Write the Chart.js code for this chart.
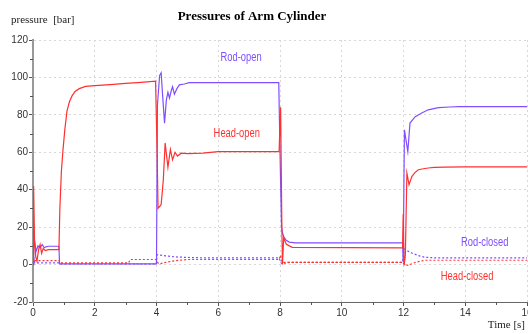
<!DOCTYPE html>
<html>
<head>
<meta charset="utf-8">
<script src="https://cdn.jsdelivr.net/npm/chart.js@4"></script>
<style>
  html, body { margin: 0; padding: 0; background: #fff; }
  #wrap { width: 528px; height: 334px; position: relative; }
</style>
</head>
<body>
<div id="wrap"><canvas id="c" width="528" height="334"></canvas></div>
<script>
// ---- data (time in s, pressure in bar) ----
const rodOpenT = [0, 0.02, 0.04, 0.1, 0.16, 0.22, 0.3, 0.36, 0.42, 0.5, 0.84, 0.86, 2.0, 4.0, 4.03, 4.1, 4.15, 4.2, 4.26, 4.32, 4.37, 4.42, 4.48, 4.52, 4.58, 4.66, 4.74, 4.9, 5.06, 6.0, 7.96, 8.0, 8.05, 8.08, 8.12, 8.2, 8.3, 8.5, 11.97, 11.99, 12.03, 12.14, 12.21, 12.3, 12.38, 12.59, 12.8, 13.13, 13.5, 13.8, 16];
const rodOpenP = [0, 17, 14, 7, 10, 9, 10.7, 9, 9.5, 9.8, 9.8, 0.4, 0.4, 0.4, 85, 101, 102.5, 90, 75.6, 88, 92, 89, 93, 95, 91, 94, 96, 96.5, 97.2, 97.2, 97.2, 60, 20, 17, 15, 13, 12, 11.6, 11.6, 1.2, 72, 60.4, 75.6, 77.5, 79, 81, 82.7, 83.9, 84.2, 84.4, 84.4];

const headOpenT = [0, 0.02, 0.05, 0.09, 0.13, 0.18, 0.23, 0.28, 0.33, 0.4, 0.5, 0.84, 0.87, 0.92, 0.97, 1.03, 1.1, 1.18, 1.26, 1.36, 1.5, 1.7, 2.0, 2.5, 3.0, 3.5, 3.97, 4.02, 4.05, 4.15, 4.22, 4.28, 4.37, 4.45, 4.52, 4.6, 4.68, 4.8, 5.0, 5.5, 6.0, 7.97, 8.02, 8.06, 8.08, 8.12, 8.2, 8.3, 8.4, 11.97, 11.99, 12.02, 12.06, 12.11, 12.18, 12.27, 12.36, 12.48, 12.65, 12.8, 13.0, 13.35, 14, 16];
const headOpenP = [0, 42, 12, 4, 1.8, 8, 10.7, 6, 8.5, 7.5, 8, 8, 30, 50, 61, 72, 82, 87, 90, 92.5, 94, 95.2, 95.6, 96.2, 96.8, 97.4, 98, 60, 30, 32, 45, 65, 52, 61.5, 56, 60, 58, 59.5, 59.3, 59.6, 60.3, 60.3, 84, 20, 0, 14.4, 11, 10, 9.2, 8.9, 27, -0.5, 5, 48.9, 42.7, 47, 49, 50.7, 51.2, 51.6, 51.9, 52.1, 52.2, 52.2];

const rodClosedT = [0, 0.03, 0.06, 0.84, 0.87, 3.99, 4.02, 4.2, 4.4, 4.6, 5.0, 5.5, 7.97, 8.03, 8.07, 8.3, 11.97, 12.02, 12.1, 12.27, 12.48, 12.7, 13.0, 16];
const rodClosedP = [0, 3, 0.9, 0.9, 0.3, 0.3, 5.3, 4.9, 4.5, 4.1, 3.8, 3.6, 3.6, 1, 0.4, 1.2, 1.2, 8.4, 7.5, 6.2, 4.8, 3.9, 3.6, 3.6];

const headClosedT = [0, 0.03, 0.06, 0.84, 0.87, 3.1, 3.15, 3.99, 4.05, 4.1, 4.3, 4.6, 5.0, 7.97, 8.02, 8.07, 8.3, 11.97, 12.03, 12.15, 12.4, 12.7, 16];
const headClosedP = [0, 1, 2.1, 2.1, 0.9, 0.9, 2.7, 2.7, 0.8, 0.4, 1.2, 2.1, 2.7, 2.7, 5, 1.2, 1.2, 1.2, 0, -0.4, 1.3, 2.3, 2.3];

const seriesNames = ['Rod-open', 'Head-open', 'Rod-closed', 'Head-closed'];
const yTickLabels = [-20, 0, 20, 40, 60, 80, 100, 120];
const xTickLabels = [0, 2, 4, 6, 8, 10, 12, 14, 16];

// ---- styles / label placement (data-space anchors) ----
const PURPLE = 'rgb(128,78,255)';
const RED = 'rgb(255,48,48)';
const labelAnchors = [
  { text: seriesNames[0], t: 6.74, p: 110.4, color: PURPLE },
  { text: seriesNames[1], t: 6.6, p: 70.2, color: RED },
  { text: seriesNames[2], t: 14.63, p: 11.7, color: PURPLE },
  { text: seriesNames[3], t: 14.06, p: -6.6, color: RED }
];

function pts(ts, ps) { return ts.map((t, i) => ({ x: t, y: ps[i] })); }

const minorTicks = {
  id: 'minorTicks',
  afterDraw(chart) {
    const ctx = chart.ctx;
    const xs = chart.scales.x, ys = chart.scales.y;
    ctx.save();
    ctx.strokeStyle = '#555';
    ctx.lineWidth = 1;
    ys.ticks.forEach(tk => {
      if (!yTickLabels.includes(tk.value)) {
        const y = Math.round(ys.getPixelForValue(tk.value)) + 0.5;
        ctx.beginPath(); ctx.moveTo(xs.left - 3, y); ctx.lineTo(xs.left, y); ctx.stroke();
      }
    });
    xs.ticks.forEach(tk => {
      if (!xTickLabels.includes(tk.value)) {
        const x = Math.round(xs.getPixelForValue(tk.value)) + 0.5;
        ctx.beginPath(); ctx.moveTo(x, ys.bottom); ctx.lineTo(x, ys.bottom + 3); ctx.stroke();
      }
    });
    ctx.restore();
  }
};

const texts = {
  id: 'texts',
  afterDraw(chart) {
    const ctx = chart.ctx;
    const xs = chart.scales.x, ys = chart.scales.y;
    ctx.save();
    ctx.fillStyle = '#000';
    ctx.textBaseline = 'middle';
    ctx.textAlign = 'center';
    ctx.font = 'bold 13px "Liberation Serif", "Times New Roman", serif';
    ctx.fillText('Pressures of Arm Cylinder', 252, 17);
    ctx.fillStyle = '#222';
    ctx.font = '11px "Liberation Serif", "Times New Roman", serif';
    ctx.textAlign = 'left';
    ctx.fillText('pressure  [bar]', 11, 20);
    ctx.textAlign = 'right';
    ctx.fillText('Time [s]', 525, 325);
    ctx.textAlign = 'center';
    ctx.font = '12px "Liberation Sans", Arial, sans-serif';
    labelAnchors.forEach(a => {
      ctx.save();
      ctx.fillStyle = a.color;
      ctx.translate(xs.getPixelForValue(a.t), ys.getPixelForValue(a.p));
      ctx.scale(0.78, 1);
      ctx.fillText(a.text, 0, 0);
      ctx.restore();
    });
    ctx.restore();
  }
};

function ds(label, ts, ps, color, dashed) {
  return {
    label, data: pts(ts, ps), borderColor: color, backgroundColor: color,
    borderWidth: 1.2, pointRadius: 0, tension: 0, fill: false,
    borderDash: dashed ? [2, 2] : []
  };
}

new Chart(document.getElementById('c'), {
  type: 'line',
  data: {
    datasets: [
      ds(seriesNames[3], headClosedT, headClosedP, RED, true),
      ds(seriesNames[2], rodClosedT, rodClosedP, PURPLE, true),
      ds(seriesNames[1], headOpenT, headOpenP, RED, false),
      ds(seriesNames[0], rodOpenT, rodOpenP, PURPLE, false)
    ]
  },
  options: {
    responsive: false,
    animation: false,
    devicePixelRatio: 1,
    layout: { padding: { top: 40, left: 0, right: 1, bottom: 0 } },
    plugins: { legend: { display: false }, tooltip: { enabled: false }, title: { display: false } },
    scales: {
      x: {
        type: 'linear', min: 0, max: 16,
        afterFit(s) { s.height = 32; s.paddingLeft = 0; s.paddingRight = 0; },
        ticks: {
          stepSize: 1, autoSkip: false, maxRotation: 0, padding: 1,
          color: '#333', font: { family: '"Liberation Sans", Arial, sans-serif', size: 10 },
          callback: v => xTickLabels.includes(v) ? String(v) : ''
        },
        grid: {
          drawOnChartArea: true, drawTicks: true, tickLength: 4,
          color: c => (c.tick && xTickLabels.includes(c.tick.value) && c.tick.value !== 0) ? '#d8d8d8' : 'rgba(0,0,0,0)',
          tickColor: c => (c.tick && xTickLabels.includes(c.tick.value)) ? '#555' : 'rgba(0,0,0,0)',
          lineWidth: 1
        },
        border: { display: true, color: '#666', width: 1, dash: [2, 3] }
      },
      y: {
        type: 'linear', min: -20, max: 120,
        afterFit(s) { s.width = 33; s.paddingTop = 0; s.paddingBottom = 0; },
        ticks: {
          stepSize: 10, autoSkip: false, padding: 1,
          color: '#333', font: { family: '"Liberation Sans", Arial, sans-serif', size: 10 },
          callback: v => yTickLabels.includes(v) ? String(v) : ''
        },
        grid: {
          drawOnChartArea: true, drawTicks: true, tickLength: 4,
          color: c => (c.tick && yTickLabels.includes(c.tick.value) && c.tick.value !== -20) ? '#d8d8d8' : 'rgba(0,0,0,0)',
          tickColor: c => (c.tick && yTickLabels.includes(c.tick.value)) ? '#555' : 'rgba(0,0,0,0)',
          lineWidth: 1
        },
        border: { display: true, color: '#999', width: 2, dash: [2, 3] }
      }
    }
  },
  plugins: [minorTicks, texts]
});
</script>
</body>
</html>
